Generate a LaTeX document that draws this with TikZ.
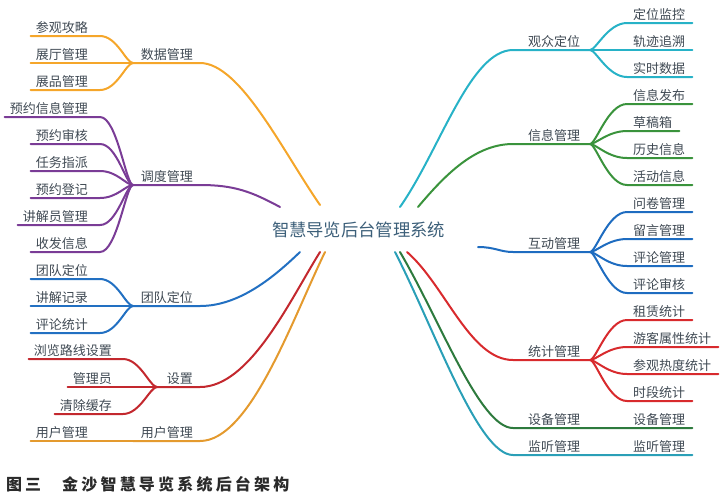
\documentclass[tikz,border=0pt]{standalone}
\usepackage{fontspec}
\setmainfont{Noto Sans CJK SC}
\definecolor{txt}{HTML}{3F4953}
\definecolor{cCenter}{HTML}{3C5F79}
\definecolor{cCap}{HTML}{2A2A2A}
\definecolor{cOrange}{HTML}{F5A62A}
\definecolor{cPurple}{HTML}{7A3C96}
\definecolor{cBlue}{HTML}{2270C2}
\definecolor{cRed}{HTML}{C3282E}
\definecolor{cOrange2}{HTML}{E49A2E}
\definecolor{cCyan}{HTML}{27B2C7}
\definecolor{cGreen}{HTML}{3A933C}
\definecolor{cBlue2}{HTML}{1E6CC0}
\definecolor{cRed2}{HTML}{D82A2D}
\definecolor{cDkGreen}{HTML}{2D7A3D}
\definecolor{cTeal}{HTML}{2A9FB7}
\tikzset{
  lbl/.style={font=\fontsize{13}{13}\selectfont, text=txt, inner sep=0pt},
  leafL/.style={lbl, anchor=base east},
  leafR/.style={lbl, anchor=base west},
  parL/.style={lbl, anchor=base east},
  parR/.style={lbl, anchor=base west},
  br/.style={line width=2pt, line cap=round, line join=round},
}
\begin{document}
\begin{tikzpicture}[x=1pt,y=-1pt]
\useasboundingbox (0,0) rectangle (726,499);

% centre
\node[font=\fontsize{17.3}{17.3}\selectfont, text=cCenter, inner sep=0pt, anchor=base] (C) at (358.5,236) {智慧导览后台管理系统};
\coordinate (eA) at (320,205);
\coordinate (eB) at (280,207);
\coordinate (eC) at (300,252);
\coordinate (eD) at (320,252);
\coordinate (eE) at (325,252);
\coordinate (eF) at (400,207);
\coordinate (eG) at (418,207);
\coordinate (eH) at (478,247);
\coordinate (eI) at (407,252);
\coordinate (eK) at (400,252);
\coordinate (eL) at (395,252);

% ===== left: 数据管理
\coordinate (JA) at (133,63);
\node[parL] (A) at (193,59) {数据管理};
\node[leafL] (A1) at (88,32) {参观攻略};
\node[leafL] (A2) at (88,59) {展厅管理};
\node[leafL] (A3) at (88,86) {展品管理};
\draw[br,cOrange] (JA) -- ([xshift=7pt,yshift=-4pt]A.base east) .. controls (240,63) and (282,150) .. (eA);
\draw[br,cOrange] ([xshift=-5pt,yshift=-4pt]A1.base west) -- ([xshift=12pt,yshift=-4pt]A1.base east) .. controls (117,36) and (126,63) .. (JA);
\draw[br,cOrange] ([xshift=-5pt,yshift=-4pt]A2.base west) -- (JA);
\draw[br,cOrange] ([xshift=-5pt,yshift=-4pt]A3.base west) -- ([xshift=12pt,yshift=-4pt]A3.base east) .. controls (117,90) and (126,63) .. (JA);

% ===== left: 调度管理
\coordinate (JB) at (133,185);
\node[parL] (B) at (193,181) {调度管理};
\node[leafL] (B1) at (88,113) {预约信息管理};
\node[leafL] (B2) at (88,140) {预约审核};
\node[leafL] (B3) at (88,167) {任务指派};
\node[leafL] (B4) at (88,194) {预约登记};
\node[leafL] (B5) at (88,221) {讲解员管理};
\node[leafL] (B6) at (88,248) {收发信息};
\draw[br,cPurple] (JB) -- ([xshift=7pt,yshift=-4pt]B.base east) .. controls (235,185) and (252,192) .. (eB);
\foreach \n/\y in {B1/117,B2/144,B3/171,B4/198,B5/225,B6/252}{
  \draw[br,cPurple] ([xshift=-5pt,yshift=-4pt]\n.base west) -- ([xshift=12pt,yshift=-4pt]\n.base east) .. controls (117,\y) and (126,185) .. (JB);
}

% ===== left: 团队定位
\coordinate (JC) at (133,306);
\node[parL] (Cg) at (193,302) {团队定位};
\node[leafL] (C1) at (88,275) {团队定位};
\node[leafL] (C2) at (88,302) {讲解记录};
\node[leafL] (C3) at (88,329) {评论统计};
\draw[br,cBlue] (JC) -- ([xshift=7pt,yshift=-4pt]Cg.base east) .. controls (240,306) and (275,276) .. (eC);
\foreach \n/\y in {C1/279,C2/306,C3/333}{
  \draw[br,cBlue] ([xshift=-5pt,yshift=-4pt]\n.base west) -- ([xshift=12pt,yshift=-4pt]\n.base east) .. controls (117,\y) and (126,306) .. (JC);
}

% ===== left: 设置
\coordinate (JD) at (157,387);
\node[parL] (D) at (193,383) {设置};
\node[leafL] (D1) at (112,355) {浏览路线设置};
\node[leafL] (D2) at (112,383) {管理员};
\node[leafL] (D3) at (112,410) {清除缓存};
\draw[br,cRed] (JD) -- ([xshift=7pt,yshift=-4pt]D.base east) .. controls (250,387) and (290,300) .. (eD);
\foreach \n/\y in {D1/359,D2/387,D3/414}{
  \draw[br,cRed] ([xshift=-5pt,yshift=-4pt]\n.base west) -- ([xshift=11pt,yshift=-4pt]\n.base east) .. controls (140,\y) and (150,387) .. (JD);
}

% ===== left: 用户管理
\coordinate (JE) at (133,441);
\node[parL] (E) at (193,437) {用户管理};
\node[leafL] (E1) at (88,437) {用户管理};
\draw[br,cOrange2] (JE) -- ([xshift=7pt,yshift=-4pt]E.base east) .. controls (250,441) and (292,320) .. (eE);
\draw[br,cOrange2] ([xshift=-5pt,yshift=-4pt]E1.base west) -- (JE);

% ===== right: 观众定位
\coordinate (JF) at (590,50);
\node[parR] (F) at (528,46) {观众定位};
\node[leafR] (F1) at (633,19) {定位监控};
\node[leafR] (F2) at (633,46) {轨迹追溯};
\node[leafR] (F3) at (633,73) {实时数据};
\draw[br,cCyan] (eF) .. controls (440,150) and (470,50) .. ([xshift=-15pt,yshift=-4pt]F.base west) -- (JF);
\foreach \n/\y in {F1/23,F2/50,F3/77}{
  \draw[br,cCyan] (JF) .. controls (596,50) and (608,\y) .. ([xshift=-6pt,yshift=-4pt]\n.base west) -- ([xshift=7pt,yshift=-4pt]\n.base east);
}

% ===== right: 信息管理
\coordinate (JG) at (590,144);
\node[parR] (G) at (528,140) {信息管理};
\node[leafR] (G1) at (633,100) {信息发布};
\node[leafR] (G2) at (633,127) {草稿箱};
\node[leafR] (G3) at (633,154) {历史信息};
\node[leafR] (G4) at (633,181) {活动信息};
\draw[br,cGreen] (eG) .. controls (445,175) and (475,144) .. ([xshift=-15pt,yshift=-4pt]G.base west) -- (JG);
\foreach \n/\y in {G1/104,G2/131,G3/158,G4/185}{
  \draw[br,cGreen] (JG) .. controls (596,144) and (608,\y) .. ([xshift=-6pt,yshift=-4pt]\n.base west) -- ([xshift=7pt,yshift=-4pt]\n.base east);
}

% ===== right: 互动管理
\coordinate (JH) at (590,252);
\node[parR] (H) at (528,248) {互动管理};
\node[leafR] (H1) at (633,208) {问卷管理};
\node[leafR] (H2) at (633,235) {留言管理};
\node[leafR] (H3) at (633,262) {评论管理};
\node[leafR] (H4) at (633,289) {评论审核};
\draw[br,cBlue2] (eH) .. controls (495,247) and (500,252) .. ([xshift=-15pt,yshift=-4pt]H.base west) -- (JH);
\foreach \n/\y in {H1/212,H2/239,H3/266,H4/293}{
  \draw[br,cBlue2] (JH) .. controls (596,252) and (608,\y) .. ([xshift=-6pt,yshift=-4pt]\n.base west) -- ([xshift=7pt,yshift=-4pt]\n.base east);
}

% ===== right: 统计管理
\coordinate (JI) at (590,360);
\node[parR] (I) at (528,356) {统计管理};
\node[leafR] (I1) at (633,316) {租赁统计};
\node[leafR] (I2) at (633,343) {游客属性统计};
\node[leafR] (I3) at (633,370) {参观热度统计};
\node[leafR] (I4) at (633,397) {时段统计};
\draw[br,cRed2] (eI) .. controls (445,285) and (470,360) .. ([xshift=-15pt,yshift=-4pt]I.base west) -- (JI);
\foreach \n/\y in {I1/320,I2/347,I3/374,I4/401}{
  \draw[br,cRed2] (JI) .. controls (596,360) and (608,\y) .. ([xshift=-6pt,yshift=-4pt]\n.base west) -- ([xshift=7pt,yshift=-4pt]\n.base east);
}

% ===== right: 设备管理
\node[parR] (K) at (528,424) {设备管理};
\node[leafR] (K1) at (633,424) {设备管理};
\draw[br,cDkGreen] (eK) .. controls (440,320) and (480,428) .. ([xshift=-15pt,yshift=-4pt]K.base west) -- ([xshift=7pt,yshift=-4pt]K1.base east);

% ===== right: 监听管理
\node[parR] (L) at (528,451) {监听管理};
\node[leafR] (L1) at (633,451) {监听管理};
\draw[br,cTeal] (eL) .. controls (435,330) and (478,455) .. ([xshift=-15pt,yshift=-4pt]L.base west) -- ([xshift=7pt,yshift=-4pt]L1.base east);

% caption
\node[anchor=base west, inner sep=0pt, text=cCap, font=\fontsize{16}{16}\selectfont\bfseries] (cap) at (6,490.5)
 {图\kern3pt三\hspace{21pt}金\kern3.2pt沙\kern3.2pt智\kern3.2pt慧\kern3.2pt导\kern3.2pt览\kern3.2pt系\kern3.2pt统\kern3.2pt后\kern3.2pt台\kern3.2pt架\kern3.2pt构};
\end{tikzpicture}
\end{document}
